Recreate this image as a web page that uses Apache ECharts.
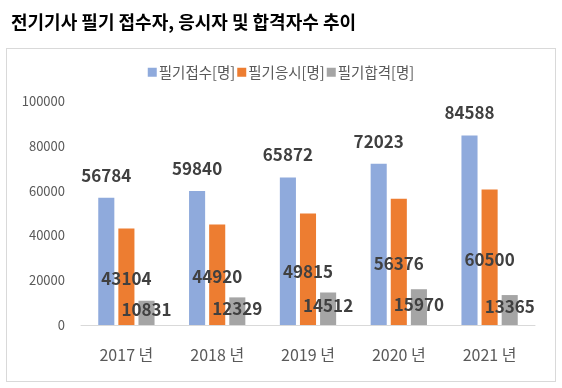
<!DOCTYPE html>
<html><head><meta charset="utf-8">
<script src="https://cdn.jsdelivr.net/npm/echarts@6/dist/echarts.min.js"></script>
<style>html,body{margin:0;padding:0;background:#fff}#box{position:absolute;left:6px;top:48px;width:550px;height:334px;border:1px solid #d9d9d9;box-sizing:border-box}#c{width:562px;height:388px;position:absolute;left:0;top:0}</style>
</head><body><div id="box"></div><div id="c"></div>
<script>
const categories = ['2017 년','2018 년','2019 년','2020 년','2021 년'];
const seriesNames = ['필기접수[명]','필기응시[명]','필기합격[명]'];
const applied = [56784, 59840, 65872, 72023, 84588];
const tested = [43104, 44920, 49815, 56376, 60500];
const passed = [10831, 12329, 14512, 15970, 13365];
const colors = ['#8FAADC','#ED7D31','#A5A5A5'];
const font = '"Noto Sans CJK KR", "Noto Sans", sans-serif';
const chart = echarts.init(document.getElementById('c'));
const lbl = (pos, dist, off) => ({show:true, position:pos, distance:dist, offset:off||[0,0], color:'#404040', fontSize:17, fontWeight:'bold', fontFamily:font});
chart.setOption({
  animation:false,
  title:{text:'전기기사 필기 접수자, 응시자 및 합격자수 추이', left:6, top:8, textStyle:{fontSize:18, fontWeight:'bold', color:'#000', fontFamily:font}},
  legend:{top:60, left:'center', itemWidth:9, itemHeight:9, itemGap:2, icon:'rect', textStyle:{fontSize:14.5, color:'#595959', fontFamily:font, padding:[0,0,0,-3]}, data:seriesNames},
  grid:{left:81, right:27, top:101, bottom:63},
  xAxis:{type:'category', data:categories, axisLine:{lineStyle:{color:'#d9d9d9'}}, axisTick:{show:false}, axisLabel:{fontSize:16, color:'#595959', margin:22, fontFamily:font}},
  yAxis:{type:'value', min:0, max:100000, interval:20000, splitLine:{show:false}, axisLine:{show:false}, axisTick:{show:false}, axisLabel:{fontSize:13, color:'#595959', margin:16, fontFamily:font, formatter:v=>String(v)}},
  series:[
    {name:seriesNames[0], type:'bar', data:applied, itemStyle:{color:colors[0]}, barGap:'25%', barCategoryGap:'38%', label:lbl('top',14)},
    {name:seriesNames[1], type:'bar', data:tested, itemStyle:{color:colors[1]}, label:lbl('inside',0,[0,2])},
    {name:seriesNames[2], type:'bar', data:passed, itemStyle:{color:colors[2]}, label:lbl('inside',0,[0,-3])}
  ]
});
</script></body></html>
